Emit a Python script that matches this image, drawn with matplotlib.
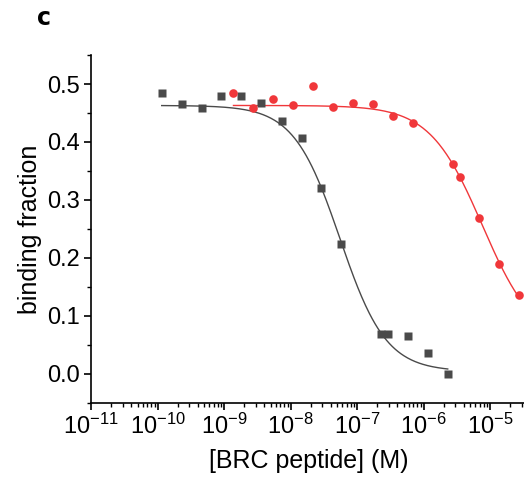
import numpy as np
import matplotlib.pyplot as plt
from matplotlib.ticker import LogLocator, MultipleLocator, NullFormatter

plt.rcParams['font.family'] = ['Liberation Sans', 'DejaVu Sans']
plt.rcParams['mathtext.fontset'] = 'custom'
plt.rcParams['mathtext.rm'] = 'Liberation Sans'
plt.rcParams['mathtext.it'] = 'Liberation Sans:italic'
plt.rcParams['mathtext.bf'] = 'Liberation Sans:bold'

# black squares
conc_black = [1.15e-10, 2.3e-10, 4.6e-10, 9.1e-10, 1.82e-9, 3.6e-9, 7.3e-9,
              1.48e-8, 2.9e-8, 5.8e-8, 2.3e-7, 2.9e-7, 5.8e-7, 1.15e-6, 2.3e-6]
frac_black = [0.485, 0.466, 0.459, 0.480, 0.480, 0.467, 0.437,
              0.406, 0.320, 0.224, 0.069, 0.069, 0.065, 0.035, 0.000]

# red circles
conc_red = [1.38e-9, 2.74e-9, 5.5e-9, 1.1e-8, 2.2e-8, 4.4e-8, 8.8e-8,
            1.75e-7, 3.5e-7, 7.0e-7, 2.8e-6, 3.5e-6, 6.9e-6, 1.38e-5, 2.75e-5]
frac_red = [0.484, 0.459, 0.474, 0.464, 0.496, 0.461, 0.467,
            0.466, 0.444, 0.433, 0.362, 0.339, 0.268, 0.190, 0.136]

x_ticks = [1e-11, 1e-10, 1e-9, 1e-8, 1e-7, 1e-6, 1e-5]

# logistic fit parameters (A1, A2, x0, p)
fit_black = (0.463, 0.004, 5.5e-8, 1.25)
fit_red = (0.463, 0.05, 7.6e-6, 1.1)


def logistic(x, a1, a2, x0, p):
    return a2 + (a1 - a2) / (1 + (x / x0) ** p)


fig = plt.figure(figsize=(5.24, 4.87), dpi=100)
ax = fig.add_axes([0.174, 0.173, 0.83, 0.714])

xb = np.logspace(np.log10(conc_black[0]), np.log10(conc_black[-1]), 300)
xr = np.logspace(np.log10(conc_red[0]), np.log10(conc_red[-1]), 300)
ax.plot(xb, logistic(xb, *fit_black), color='#4a4a4a', lw=1)
ax.plot(xr, logistic(xr, *fit_red), color='#f0373a', lw=1)
ax.plot(conc_black, frac_black, 's', color='#4a4a4a', ms=5.6, mec='none')
ax.plot(conc_red, frac_red, 'o', color='#f0373a', ms=6.2, mec='none')

ax.set_xscale('log')
ax.set_xlim(1e-11, 10 ** -4.46)
ax.set_ylim(-0.05, 0.55)
ax.set_xticks(x_ticks)
ax.set_xticklabels([f'$\\mathregular{{10^{{{int(np.log10(t))}}}}}$' for t in x_ticks])
ax.xaxis.set_minor_locator(LogLocator(base=10, subs=np.arange(2, 10), numticks=20))
ax.xaxis.set_minor_formatter(NullFormatter())
ax.yaxis.set_major_locator(MultipleLocator(0.1))
ax.yaxis.set_minor_locator(MultipleLocator(0.05))
ax.yaxis.set_major_formatter(plt.FuncFormatter(lambda v, _: f'{v:.1f}'))

for s in ['top', 'right']:
    ax.spines[s].set_visible(False)
for s in ['left', 'bottom']:
    ax.spines[s].set_linewidth(1.2)
ax.tick_params(which='major', direction='out', length=5, width=1.2, labelsize=17, pad=3)
ax.tick_params(which='minor', direction='out', length=3, width=1)

ax.set_xlabel('[BRC peptide] (M)', fontsize=18, labelpad=7)
ax.set_ylabel('binding fraction', fontsize=18, labelpad=4)

fig.text(0.07, 0.963, 'c', fontsize=17, fontweight='bold',
         family=['DejaVu Sans'], va='center', ha='left')

fig.savefig('out.png', dpi=100)
